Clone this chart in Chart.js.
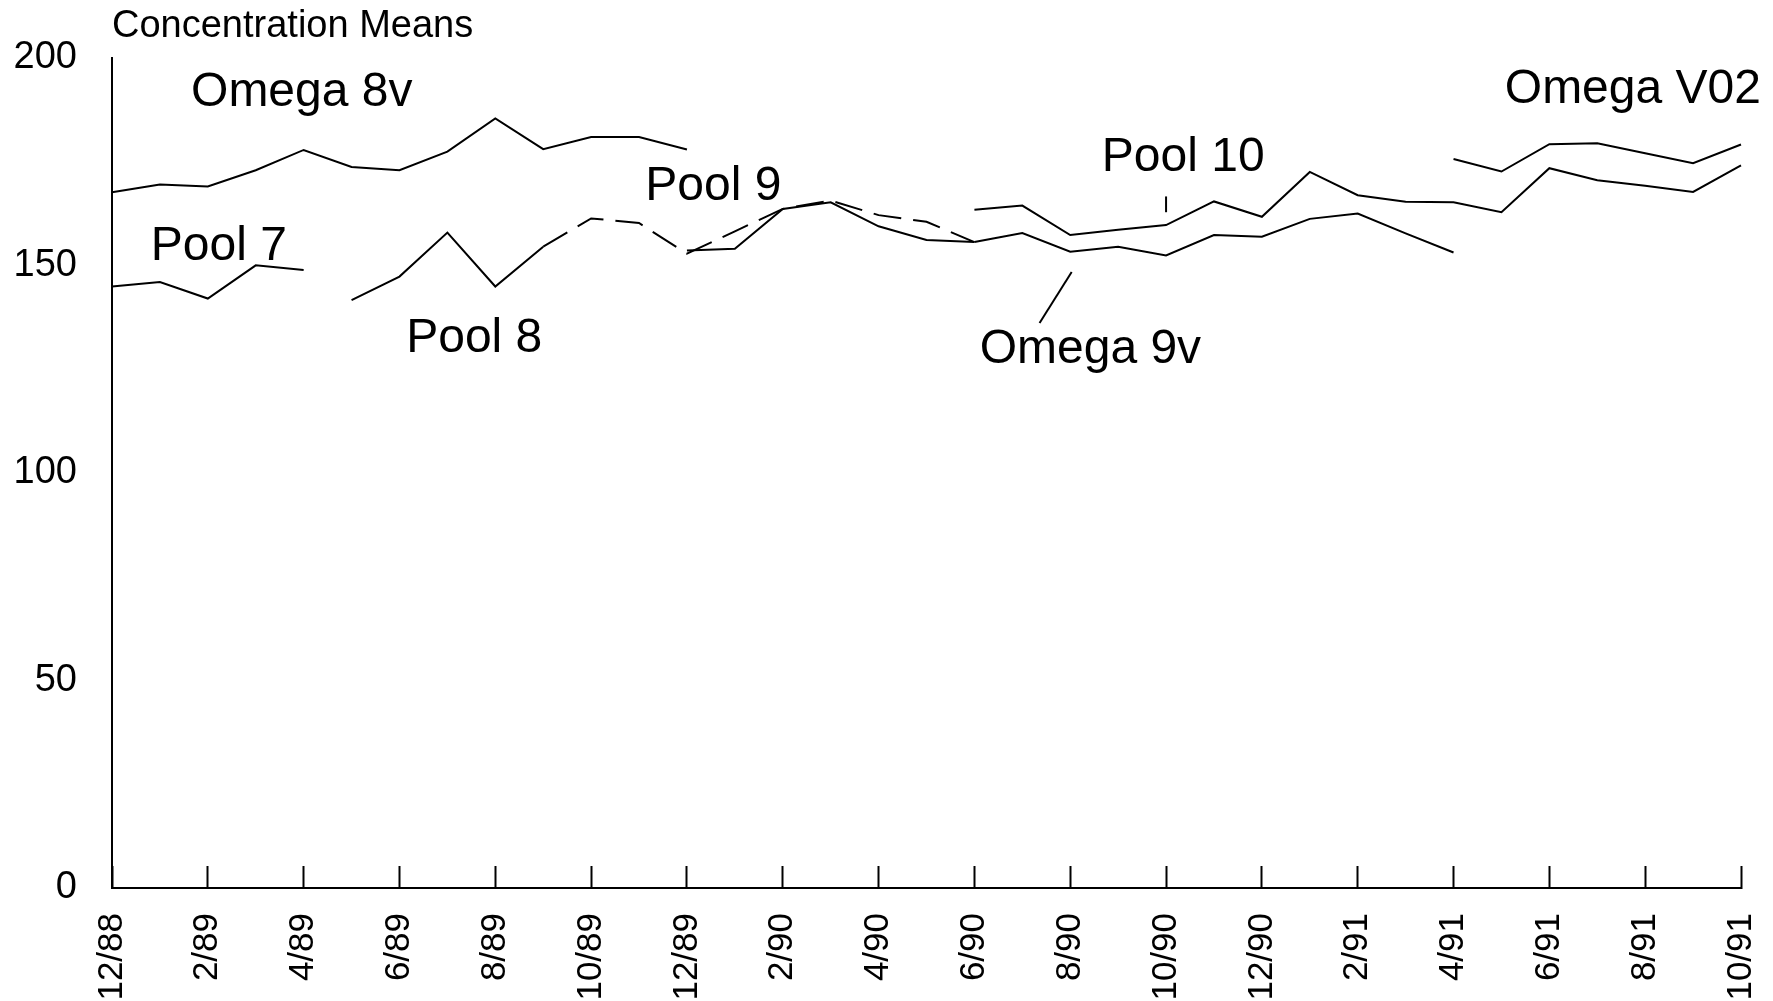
<!DOCTYPE html>
<html>
<head>
<meta charset="utf-8">
<script src="https://cdn.jsdelivr.net/npm/chart.js@4.4.1/dist/chart.umd.min.js"></script>
<style>
  html, body { margin: 0; padding: 0; background: #fff; }
  #wrap { width: 1773px; height: 1001px; position: relative; }
</style>
</head>
<body>
<div id="wrap"><canvas id="meansChart"></canvas></div>
<script>
const _ = null;

const months = [
    '12/88', '1/89', '2/89', '3/89', '4/89', '5/89', '6/89', '7/89', '8/89', '9/89', '10/89', '11/89',
    '12/89', '1/90', '2/90', '3/90', '4/90', '5/90', '6/90', '7/90', '8/90', '9/90', '10/90', '11/90',
    '12/90', '1/91', '2/91', '3/91', '4/91', '5/91', '6/91', '7/91', '8/91', '9/91', '10/91'
];

const yTicks = [0, 50, 100, 150, 200];

const omega8v = [167.6, 169.5, 169.0, 172.9, 177.8, 173.7, 172.9, 177.4, 185.4, 178.0, 180.9, 180.9, 177.9,
    _, _, _, _, _, _, _, _, _, _, _, _, _, _, _, _, _, _, _, _, _, _];
const pool7 = [144.9, 146.0, 142.0, 150.0, 148.9,
    _, _, _, _, _, _, _, _, _, _, _, _, _, _, _, _, _, _, _, _, _, _, _, _, _, _, _, _, _, _];
const pool8 = [_, _, _, _, _, 141.6, 147.3, 157.9, 144.9, 154.5,
    _, _, _, _, _, _, _, _, _, _, _, _, _, _, _, _, _, _, _, _, _, _, _, _, _];
// dashed continuation of Pool 8
const pool8Dashed = [_, _, _, _, _, _, _, _, _, 154.5, 161.3, 160.2, 152.8, 158.2, 163.6, 165.6, 162.1, 160.5, 155.6,
    _, _, _, _, _, _, _, _, _, _, _, _, _, _, _, _];
const pool9 = [_, _, _, _, _, _, _, _, _, _, _, _, 153.6, 154.0, 163.6, 165.2, 159.4, 156.1, 155.6,
    _, _, _, _, _, _, _, _, _, _, _, _, _, _, _, _];
const omega9v = [_, _, _, _, _, _, _, _, _, _, _, _, _, _, _, _, _, _,
    155.6, 157.8, 153.3, 154.5, 152.4, 157.3, 156.9, 161.2, 162.5, 157.7, 153.1, _, _, _, _, _, _];
const pool10 = [_, _, _, _, _, _, _, _, _, _, _, _, _, _, _, _, _, _,
    163.4, 164.4, 157.3, 158.6, 159.7, 165.4, 161.7, 172.5, 166.9, 165.3, 165.2, 162.8, 173.4, 170.5, 169.2, 167.7, 174.1];
const omegaV02 = [_, _, _, _, _, _, _, _, _, _, _, _, _, _, _, _, _, _, _, _, _, _, _, _, _, _, _, _,
    175.6, 172.6, 179.2, 179.4, 177.0, 174.6, 179.1];

const FONT = '"Liberation Sans", Arial, Helvetica, sans-serif';

// series names written next to the lines (x = month index, y = value)
const seriesLabels = [
    { text: 'Omega 8v', x: 1.65, y: 191.6 },
    { text: 'Pool 7', x: 0.81, y: 154.4 },
    { text: 'Pool 8', x: 6.14, y: 132.3 },
    { text: 'Pool 9', x: 11.13, y: 169.0 },
    { text: 'Pool 10', x: 20.66, y: 176.0 },
    { text: 'Omega 9v', x: 18.11, y: 129.7 },
    { text: 'Omega V02', x: 29.07, y: 192.3 }
];
const leaders = [
    { x1: 22, y1: 166.6, x2: 22, y2: 162.8 },
    { x1: 20.03, y1: 148.4, x2: 19.36, y2: 136.1 }
];

function line(data, dashed) {
    return {
        data: data,
        borderColor: '#000',
        borderWidth: 2,
        borderDash: dashed ? [28, 12] : [],
        pointRadius: 0,
        tension: 0,
        spanGaps: false,
        fill: false
    };
}

const annotations = {
    id: 'annotations',
    afterDatasetsDraw(chart) {
        const ctx = chart.ctx;
        const xs = chart.scales.x, ys = chart.scales.y;
        ctx.save();
        ctx.fillStyle = '#000';
        ctx.strokeStyle = '#000';
        ctx.lineWidth = 2;
        ctx.textBaseline = 'middle';
        ctx.textAlign = 'left';

        ctx.font = '38px ' + FONT;
        ctx.fillText('Concentration Means', chart.chartArea.left, chart.chartArea.top - 31);

        ctx.font = '48px ' + FONT;
        seriesLabels.forEach(l => {
            ctx.fillText(l.text, xs.getPixelForValue(l.x), ys.getPixelForValue(l.y));
        });
        leaders.forEach(l => {
            ctx.beginPath();
            ctx.moveTo(xs.getPixelForValue(l.x1), ys.getPixelForValue(l.y1));
            ctx.lineTo(xs.getPixelForValue(l.x2), ys.getPixelForValue(l.y2));
            ctx.stroke();
        });
        ctx.restore();
    }
};

new Chart(document.getElementById('meansChart').getContext('2d'), {
    type: 'line',
    data: {
        labels: months,
        datasets: [
            line(omega8v), line(pool7), line(pool8), line(pool8Dashed, true),
            line(pool9), line(omega9v), line(pool10), line(omegaV02)
        ]
    },
    options: {
        responsive: true,
        maintainAspectRatio: false,
        animation: false,
        layout: { padding: { top: 55, right: 32, bottom: 0, left: 0 } },
        plugins: {
            legend: { display: false },
            title: { display: false },
            tooltip: { enabled: false }
        },
        scales: {
            x: {
                type: 'category',
                offset: false,
                border: { display: true, color: '#000', width: 2 },
                grid: {
                    display: true,
                    drawOnChartArea: false,
                    drawTicks: true,
                    tickLength: -22,
                    tickWidth: 2,
                    tickColor: c => (c.index % 2 === 0 ? '#000' : 'rgba(0,0,0,0)')
                },
                ticks: {
                    autoSkip: false,
                    maxRotation: 90,
                    minRotation: 90,
                    padding: 47,
                    color: '#000',
                    font: { family: FONT, size: 35 },
                    callback: function(v, i) { return i % 2 === 0 ? this.getLabelForValue(v) : ''; }
                },
                afterFit: s => { s.height = 113; s.paddingLeft = 0; s.paddingRight = 0; }
            },
            y: {
                min: 0,
                max: 200,
                border: { display: true, color: '#000', width: 2 },
                grid: { display: false, drawTicks: false },
                afterBuildTicks: s => { s.ticks = yTicks.map(v => ({ value: v })); },
                ticks: {
                    padding: 35,
                    color: '#000',
                    font: { family: FONT, size: 38 }
                },
                afterFit: s => { s.width = 112; }
            }
        }
    },
    plugins: [annotations]
});
</script>
</body>
</html>
